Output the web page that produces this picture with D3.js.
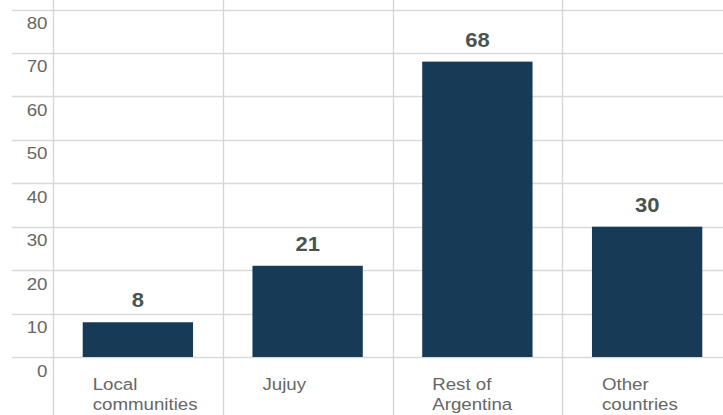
<!DOCTYPE html>
<html>
<head>
<meta charset="utf-8">
<script src="https://cdn.jsdelivr.net/npm/d3@7/dist/d3.min.js"></script>
<style>
  html, body { margin: 0; padding: 0; background: #fff; }
  svg { display: block; }
</style>
</head>
<body>
<svg id="chart" width="723" height="415"></svg>
<script>
// Visitors by origin
const categories = ["Local communities", "Jujuy", "Rest of Argentina", "Other countries"];
const labelLines = [["Local", "communities"], ["Jujuy"], ["Rest of", "Argentina"], ["Other", "countries"]];
const values = [8, 21, 68, 30];
const yTicks = [0, 10, 20, 30, 40, 50, 60, 70, 80];

const W = 723, H = 415;
const svg = d3.select("#chart");
const font = "'Liberation Sans', Arial, sans-serif";
const stretch = 1.1; // slightly widened lettering

const x = d3.scaleBand()
  .domain(categories)
  .range([53, 732])
  .paddingInner(0.35)
  .paddingOuter(0.175);

const y = d3.scaleLinear().domain([0, 80]).range([357, 9.5]);

const gap = x.step() * x.paddingInner() / 2;
const place = (px, py) => `translate(${px},${py}) scale(${stretch},1)`;

// horizontal grid
svg.append("g").selectAll("line").data(yTicks).join("line")
  .attr("x1", 12).attr("x2", W)
  .attr("y1", d => Math.round(y(d)) + 0.5).attr("y2", d => Math.round(y(d)) + 0.5)
  .attr("stroke", "#d9d9d9").attr("stroke-width", 1.3);

// vertical separators between categories
svg.append("g").selectAll("line").data(categories).join("line")
  .attr("x1", d => Math.round(x(d) - gap) + 0.5).attr("x2", d => Math.round(x(d) - gap) + 0.5)
  .attr("y1", 0).attr("y2", H)
  .attr("stroke", "#d4d4d4").attr("stroke-width", 1.3);

// y tick labels, set just below each grid line
svg.append("g").selectAll("text").data(yTicks).join("text")
  .attr("transform", d => place(47.5, y(d) + 19.5))
  .attr("text-anchor", "end")
  .attr("font-family", font).attr("font-size", 17)
  .attr("fill", "#666")
  .text(d => d);

// bars
svg.append("g").selectAll("rect").data(values).join("rect")
  .attr("x", (d, i) => x(categories[i]))
  .attr("width", x.bandwidth())
  .attr("y", d => y(d))
  .attr("height", d => y(0) - y(d))
  .attr("fill", "#173a57");

// value labels
svg.append("g").selectAll("text").data(values).join("text")
  .attr("transform", (d, i) => place(x(categories[i]) + x.bandwidth() / 2, y(d) - 15))
  .attr("text-anchor", "middle")
  .attr("font-family", font).attr("font-size", 20).attr("font-weight", "bold")
  .attr("fill", "#4b5351")
  .text(d => d);

// category labels
const cat = svg.append("g").selectAll("text").data(categories).join("text")
  .attr("transform", d => place(x(d) + 10, 389.5))
  .attr("font-family", font).attr("font-size", 17)
  .attr("fill", "#666");
cat.each(function (d, i) {
  d3.select(this).selectAll("tspan").data(labelLines[i]).join("tspan")
    .attr("x", 0)
    .attr("dy", (t, j) => j === 0 ? 0 : 21)
    .text(t => t);
});
</script>
</body>
</html>
